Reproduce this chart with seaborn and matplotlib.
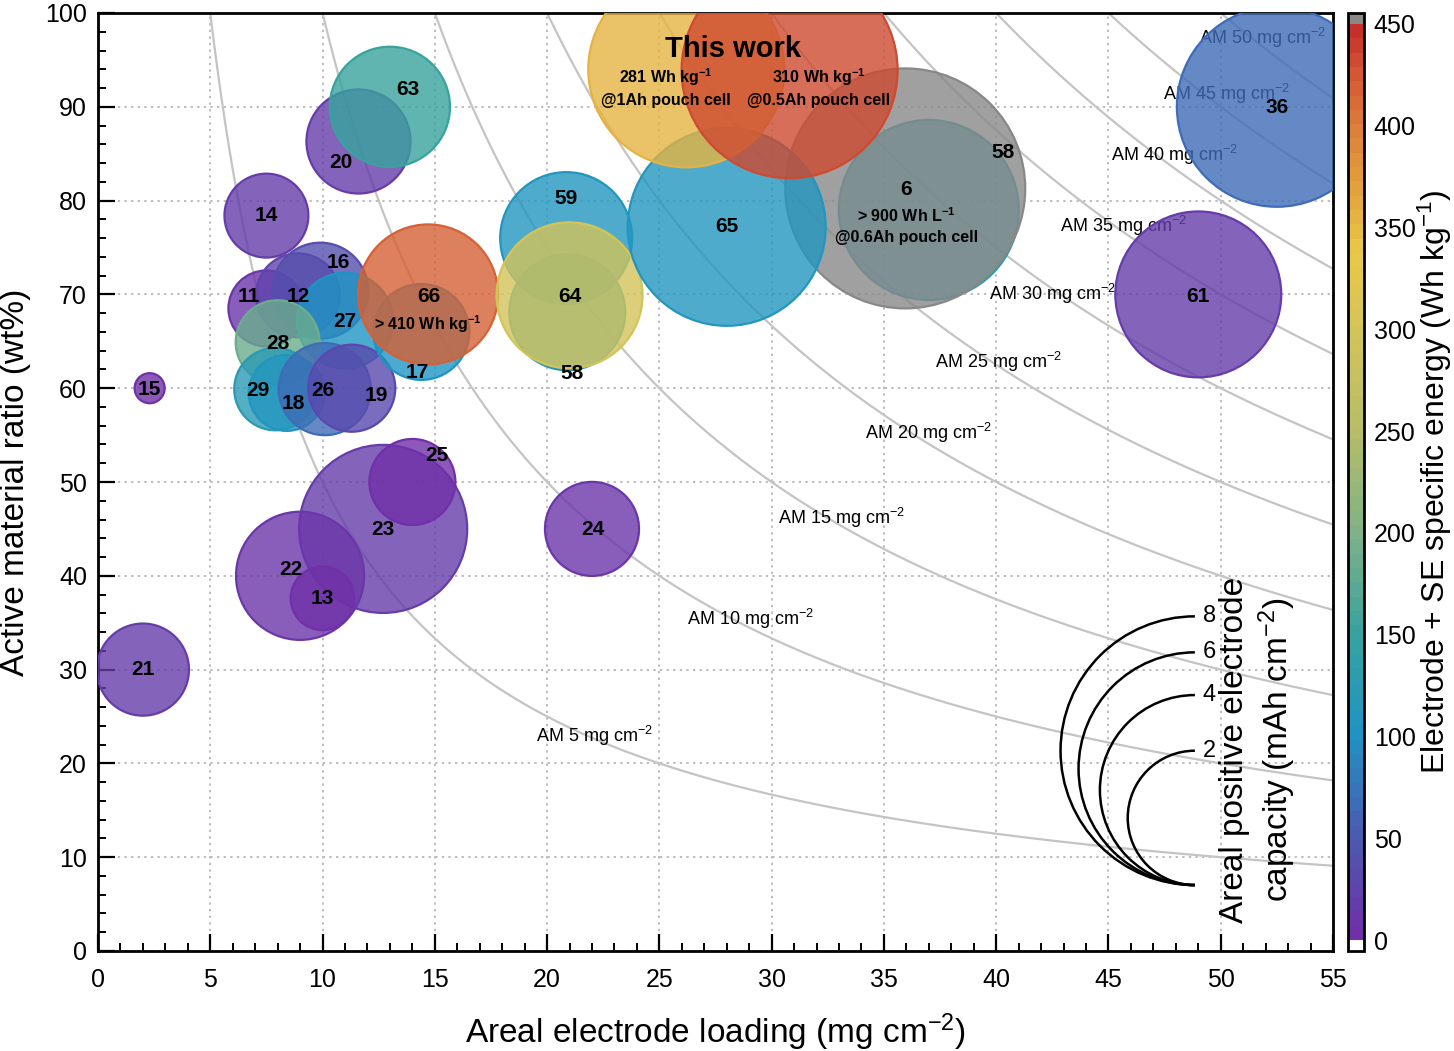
import numpy as np
import pandas as pd
import seaborn as sns
import matplotlib.pyplot as plt
from matplotlib.colors import LinearSegmentedColormap, Normalize
from matplotlib.cm import ScalarMappable
from matplotlib.patches import Arc
from matplotlib.ticker import MultipleLocator

# reference number, areal loading (mg cm-2), active ratio (wt%), areal capacity (mAh cm-2), specific energy (Wh kg-1)
refs = ["15", "21", "14", "20", "63", "11", "12", "16", "27", "28", "29", "18", "26", "19", "17",
        "66", "23", "25", "22", "13", "24", "59", "58", "64", "58", "6", "65", "", "", "61", "36"]
loading = [2.3, 2.0, 7.5, 11.6, 13.0, 7.5, 8.9, 9.9, 11.0, 8.0, 7.9, 8.4, 10.1, 11.3, 14.4,
           14.7, 12.7, 14.0, 9.0, 10.0, 22.0, 20.85, 20.9, 21.0, 37.0, 35.95, 28.0, 26.2, 30.8, 49.0, 52.5]
ratio = [60.0, 30.0, 78.4, 86.3, 90.0, 68.5, 69.9, 70.4, 67.2, 64.9, 59.9, 59.5, 59.9, 60.0, 66.0,
         70.0, 45.0, 50.0, 40.0, 37.6, 45.0, 76.0, 68.1, 69.9, 79.0, 81.3, 77.2, 94.0, 93.9, 70.0, 90.0]
capacity = [0.10, 0.94, 0.78, 1.20, 1.60, 0.64, 0.78, 1.02, 1.02, 0.78, 0.75, 0.64, 0.94, 0.84, 1.02,
            2.17, 3.13, 0.82, 1.82, 0.45, 0.98, 1.93, 1.49, 2.36, 3.59, 6.38, 4.34, 4.26, 5.17, 3.05, 4.43]
energy = [5, 15, 18, 15, 150, 12, 22, 42, 100, 185, 125, 110, 65, 30, 100,
          418, 20, 5, 12, 5, 12, 110, 110, 300, 130, 500, 110, 355, 435, 20, 65]

# label positions for reference numbers
lab_x = [2.3, 2.0, 7.5, 10.8, 13.8, 6.7, 8.9, 10.7, 11.0, 8.0, 7.1, 8.7, 10.0, 12.4, 14.2,
         14.75, 12.7, 15.1, 8.6, 10.0, 22.05, 20.85, 21.1, 21.0, 40.3, 36.0, 28.0, 0, 0, 49.0, 52.5]
lab_y = [59.9, 30.0, 78.4, 84.1, 91.8, 69.8, 69.8, 73.4, 67.1, 64.8, 59.8, 58.4, 59.8, 59.2, 61.7,
         69.8, 44.9, 52.8, 40.7, 37.6, 44.9, 80.2, 61.6, 69.8, 85.1, 81.2, 77.2, 0, 0, 69.8, 89.9]

am_levels = [5, 10, 15, 20, 25, 30, 35, 40, 45, 50]
am_label_x = [22.09, 29.04, 33.09, 36.97, 40.09, 42.49, 45.65, 47.96, 50.24, 51.84]
am_label_y = [22.92, 35.39, 46.15, 55.21, 62.78, 70.03, 77.27, 84.84, 91.35, 97.31]

key_caps = [2, 4, 6, 8]

cb_vals = [0, 50, 100, 150, 200, 250, 300, 340, 375, 400, 430, 450]
cb_cols = ["#7030a8", "#4a5cb0", "#1f94c4", "#38a39e", "#80b188", "#b6bd66",
           "#d3c45a", "#e8c848", "#e29d3c", "#dd803a", "#d25532", "#c5302a"]

df = pd.DataFrame({"ref": refs, "loading": loading, "ratio": ratio,
                   "capacity": capacity, "energy": energy})

sns.set_style("ticks")
plt.rcParams["font.family"] = ["Liberation Sans", "DejaVu Sans"]
plt.rcParams["mathtext.default"] = "regular"
for key in ["text.color", "axes.labelcolor", "xtick.color", "ytick.color", "axes.edgecolor"]:
    plt.rcParams[key] = "black"

cmap = LinearSegmentedColormap.from_list(
    "se", list(zip(np.array(cb_vals) / 450, cb_cols)), N=64)
cmap.set_over("#888888")
cmap.set_under("white")
norm = Normalize(0, 450)

W, H = 1454, 1051
fig = plt.figure(figsize=(W / 100, H / 100), dpi=100)
ax_rect = [98 / W, (H - 951) / H, 1235 / W, 938 / H]
ax = fig.add_axes(ax_rect)
px_x = W * ax_rect[2] / 55
px_y = H * ax_rect[3] / 100

# iso lines of active material loading
for lev, lx, ly in zip(am_levels, am_label_x, am_label_y):
    xs = np.linspace(lev, 55, 300)
    ax.plot(xs, 100 * lev / xs, color="#c4c4c4", lw=1.6, zorder=1)
    ax.text(lx, ly, f"AM {lev} mg cm$^{{-2}}$", fontsize=13,
            ha="center", va="center", zorder=2)

# bubble size: radius 47.5 px per sqrt(mAh cm-2)
k_px = 47.5
s_per_cap = (2 * k_px * 72 / 100) ** 2
sns.scatterplot(data=df, x="loading", y="ratio", hue="energy", size="capacity",
                palette=cmap, hue_norm=norm, sizes=(0, s_per_cap * 8), size_norm=(0, 8),
                legend=False, ax=ax, zorder=3)
coll = ax.collections[-1]
fc = coll.get_facecolors().copy()
ec = fc.copy()
fc[:, 3] = 0.8
ec[:, 3] = 1.0
coll.set_alpha(None)
coll.set_facecolors(fc)
coll.set_edgecolors(ec)
coll.set_linewidths(1.6)

for r, lx, ly in zip(refs, lab_x, lab_y):
    if r:
        ax.text(lx, ly, r, fontsize=15, fontweight="bold", ha="center", va="center", zorder=5)

ax.text(14.7, 66.8, "> 410 Wh kg$^{-1}$", fontsize=11.5, fontweight="bold",
        ha="center", va="center", zorder=5)
ax.text(28.3, 96.2, "This work", fontsize=21, fontweight="bold", ha="center", va="center", zorder=5)
ax.text(25.3, 92.1, "281 Wh kg$^{-1}$\n@1Ah pouch cell", fontsize=11.5, fontweight="bold",
        ha="center", va="center", linespacing=1.4, zorder=5)
ax.text(32.1, 92.1, "310 Wh kg$^{-1}$\n@0.5Ah pouch cell", fontsize=11.5, fontweight="bold",
        ha="center", va="center", linespacing=1.4, zorder=5)
ax.text(36.0, 77.3, "> 900 Wh L$^{-1}$\n@0.6Ah pouch cell", fontsize=11.5, fontweight="bold",
        ha="center", va="center", linespacing=1.4, zorder=5)

# size key: left half circles sharing the bottom point
key_x, key_bottom = 48.85, 7.03
for c in key_caps:
    r_px = k_px * np.sqrt(c)
    cy = key_bottom + r_px / px_y
    ax.add_patch(Arc((key_x, cy), 2 * r_px / px_x, 2 * r_px / px_y,
                     theta1=90, theta2=270, color="black", lw=1.8, zorder=4))
    ax.text(key_x + 0.35, key_bottom + 2 * r_px / px_y, str(c), fontsize=17,
            ha="left", va="center", zorder=5)
ax.text(51.7, 21.4, "Areal positive electrode\ncapacity (mAh cm$^{-2}$)", fontsize=24,
        rotation=90, ha="center", va="center", multialignment="center",
        linespacing=1.2, zorder=5)

ax.set_xlim(0, 55)
ax.set_ylim(0, 100)
ax.xaxis.set_major_locator(MultipleLocator(5))
ax.xaxis.set_minor_locator(MultipleLocator(1))
ax.yaxis.set_major_locator(MultipleLocator(10))
ax.yaxis.set_minor_locator(MultipleLocator(2))
ax.grid(True, which="major", color="#bdbdbd", linestyle=(0, (1.2, 2.2)), lw=1.4, zorder=0)
ax.set_axisbelow(True)
ax.tick_params(which="both", direction="in", top=False, right=False, labelsize=18)
ax.tick_params(axis="x", pad=12)
ax.tick_params(axis="y", pad=8)
ax.tick_params(which="major", length=12, width=1.6)
ax.tick_params(which="minor", length=6, width=1.4)
for sp in ax.spines.values():
    sp.set_linewidth(2)
    sp.set_visible(True)
ax.set_xlabel("Areal electrode loading (mg cm$^{-2}$)", fontsize=24, labelpad=14)
ax.set_ylabel("Active material ratio (wt%)", fontsize=24, labelpad=10)

cax = fig.add_axes([1348 / W, ax_rect[1], 16 / W, ax_rect[3]])
sm = ScalarMappable(norm=norm, cmap=cmap)
cb = fig.colorbar(sm, cax=cax, extend="both", extendrect=True, extendfrac=0.012,
                  ticks=np.arange(0, 451, 50))
cb.outline.set_linewidth(2)
cax.tick_params(length=0, labelsize=18, pad=7)
cb.set_label("Electrode + SE specific energy (Wh kg$^{-1}$)", fontsize=23, labelpad=0)

fig.savefig("out.png", dpi=100)
